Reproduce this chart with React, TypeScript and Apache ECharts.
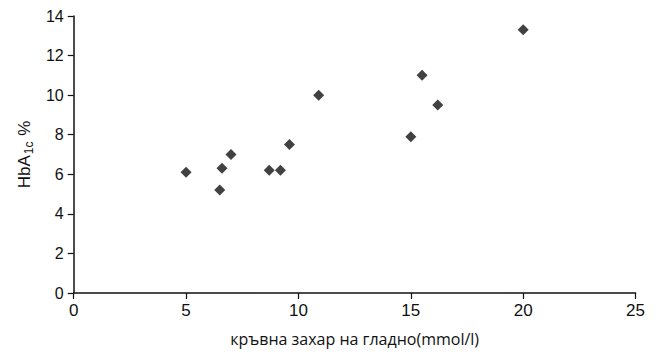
import React, { useEffect, useRef } from "react";
import * as echarts from "echarts";

const glucose = [5.0, 6.5, 6.6, 7.0, 8.7, 9.2, 9.6, 10.9, 15.0, 15.5, 16.2, 20.0];
const hba1c = [6.1, 5.2, 6.3, 7.0, 6.2, 6.2, 7.5, 10.0, 7.9, 11.0, 9.5, 13.3];
const xTitle = "кръвна захар на гладно(mmol/l)";

export default function App() {
  const ref = useRef<HTMLDivElement>(null);
  useEffect(() => {
    if (!ref.current) return;
    const chart = echarts.init(ref.current, undefined, { renderer: "svg" });
    const data = glucose.map((g, i) => [g, hba1c[i]]);
    chart.setOption({
      animation: false,
      backgroundColor: "#ffffff",
      grid: { left: 57.5, right: 5, top: 7, bottom: 47 },
      xAxis: {
        type: "value",
        min: 0,
        max: 25,
        interval: 5,
        splitLine: { show: false },
        axisLine: { lineStyle: { color: "#111", width: 1.5 } },
        axisTick: { show: true, length: 6, lineStyle: { color: "#111", width: 1.2 } },
        axisLabel: { color: "#111", fontSize: 17, fontFamily: "Liberation Sans, Arial, sans-serif", margin: 9 },
        name: xTitle,
        nameLocation: "middle",
        nameGap: 38,
        nameTextStyle: { color: "#111", fontSize: 16, fontFamily: "Open Sans, Noto Sans, sans-serif" },
      },
      yAxis: {
        type: "value",
        min: 0,
        max: 14,
        interval: 2,
        splitLine: { show: false },
        axisLine: { show: true, lineStyle: { color: "#111", width: 1.5 } },
        axisTick: { show: true, length: 6, lineStyle: { color: "#111", width: 1.2 } },
        axisLabel: { color: "#111", fontSize: 16, fontFamily: "Liberation Sans, Arial, sans-serif", margin: 10 },
        name: "{a|HbA}{s|1c}{a| %}",
        nameLocation: "middle",
        nameGap: 33,
        nameRotate: 90,
        nameTextStyle: {
          color: "#111",
          fontFamily: "Liberation Sans, Arial, sans-serif",
          rich: {
            a: { fontSize: 17, color: "#111", fontFamily: "Liberation Sans, Arial, sans-serif" },
            s: { fontSize: 12, color: "#111", padding: [9, 1, 0, 1], fontFamily: "Liberation Sans, Arial, sans-serif" },
          },
        },
      },
      series: [
        {
          type: "scatter",
          data,
          symbol: "diamond",
          symbolSize: 11,
          itemStyle: { color: "#111" },
        },
      ],
    });
    return () => chart.dispose();
  }, []);
  return <div ref={ref} style={{ width: 640, height: 344 }} />;
}
